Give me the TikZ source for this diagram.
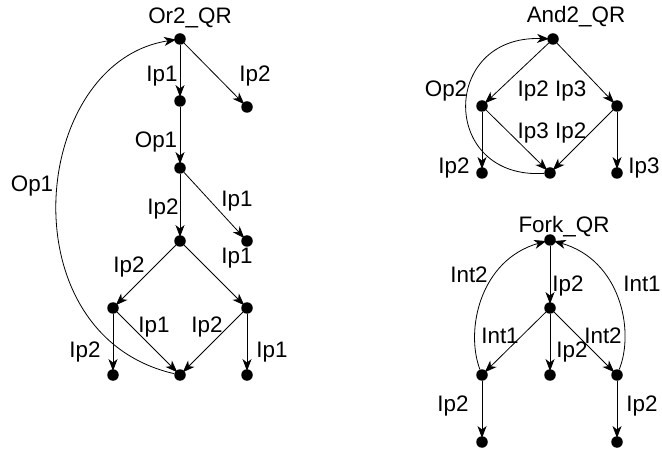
\documentclass[tikz,border=0pt]{standalone}
\usepackage{fontspec}
\setmainfont{Liberation Sans}
\usetikzlibrary{arrows.meta}
\begin{document}
\begin{tikzpicture}[x=1bp,y=-1bp,
  dot/.style={circle,fill=black,inner sep=0pt,minimum size=11.5bp},
  lbl/.style={anchor=base,inner sep=0pt,font=\fontsize{22.5}{27}\selectfont},
  edge/.style={-{Stealth[length=12bp,width=9bp,inset=3.5bp]},line width=0.8bp,shorten >=-2bp}]
\useasboundingbox (0,0) rectangle (662,452);

% ---- Or2_QR ----
\node[dot] (o0) at (180,39) {};
\node[dot] (o1) at (180,101) {};
\node[dot] (o2) at (247,107) {};
\node[dot] (o3) at (180,168) {};
\node[dot] (o4) at (180,241) {};
\node[dot] (o5) at (247,241) {};
\node[dot] (o6) at (113,308) {};
\node[dot] (o7) at (247,308) {};
\node[dot] (o8) at (180,375) {};
\node[dot] (o9) at (113,375) {};
\node[dot] (o10) at (247,375) {};
\draw[edge] (o0) -- (o1);
\draw[edge] (o0) -- (o2);
\draw[edge] (o1) -- (o3);
\draw[edge] (o3) -- (o4);
\draw[edge] (o3) -- (o5);
\draw[edge] (o4) -- (o6);
\draw[edge] (o4) -- (o7);
\draw[edge] (o6) -- (o8);
\draw[edge] (o7) -- (o8);
\draw[edge] (o6) -- (o9);
\draw[edge] (o7) -- (o10);
\draw[edge] (o8) .. controls (5,335) and (30,62) .. (o0);
\node[lbl] (t0) at (190,24) {Or2\_QR};
\node[lbl] (t1) at (162,82) {Ip1};
\node[lbl] (t2) at (255,82) {Ip2};
\node[lbl] (t3) at (156,148) {Op1};
\node[lbl] (t4) at (32,192) {Op1};
\node[lbl] (t5) at (163,215) {Ip2};
\node[lbl] (t6) at (237,207) {Ip1};
\node[lbl] (t7) at (129,273) {Ip2};
\node[lbl] (t8) at (237,264) {Ip1};
\node[lbl] (t9) at (154,332) {Ip1};
\node[lbl] (t10) at (207,332) {Ip2};
\node[lbl] (t11) at (85,357) {Ip2};
\node[lbl] (t12) at (272,357) {Ip1};

% ---- And2_QR ----
\node[dot] (a0) at (553,39) {};
\node[dot] (a1) at (482,106) {};
\node[dot] (a2) at (617,106) {};
\node[dot] (a3) at (550,173) {};
\node[dot] (a4) at (482,173) {};
\node[dot] (a5) at (617,173) {};
\draw[edge] (a0) -- (a1);
\draw[edge] (a0) -- (a2);
\draw[edge] (a1) -- (a3);
\draw[edge] (a2) -- (a3);
\draw[edge] (a1) -- (a4);
\draw[edge] (a2) -- (a5);
\draw[edge] (a3) .. controls (440,180) and (440,35) .. (a0);
\node[lbl] (u0) at (576,23) {And2\_QR};
\node[lbl] (u1) at (446,97) {Op2};
\node[lbl] (u2) at (552,97) {Ip2 Ip3};
\node[lbl] (u3) at (552,139) {Ip3 Ip2};
\node[lbl] (u4) at (454,174) {Ip2};
\node[lbl] (u5) at (644,174) {Ip3};

% ---- Fork_QR ----
\node[dot] (f0) at (550,240) {};
\node[dot] (f1) at (550,308) {};
\node[dot] (f2) at (482,375) {};
\node[dot] (f3) at (550,375) {};
\node[dot] (f4) at (617,375) {};
\node[dot] (f5) at (482,442) {};
\node[dot] (f6) at (617,442) {};
\draw[edge] (f0) -- (f1);
\draw[edge] (f1) -- (f2);
\draw[edge] (f1) -- (f3);
\draw[edge] (f1) -- (f4);
\draw[edge] (f2) -- (f5);
\draw[edge] (f4) -- (f6);
\draw[edge] (f2) .. controls (465,330) and (480,260) .. (f0);
\draw[edge] (f4) .. controls (635,330) and (620,260) .. (f0);
\node[lbl] (v0) at (564,233) {Fork\_QR};
\node[lbl] (v1) at (469,283) {Int2};
\node[lbl] (v2) at (642,292) {Int1};
\node[lbl] (v3) at (568,292) {Ip2};
\node[lbl] (v4) at (500,343) {Int1};
\node[lbl] (v5) at (603,343) {Int2};
\node[lbl] (v6) at (572,357) {Ip2};
\node[lbl] (v7) at (453,411) {Ip2};
\node[lbl] (v8) at (642,411) {Ip2};
\end{tikzpicture}
\end{document}
